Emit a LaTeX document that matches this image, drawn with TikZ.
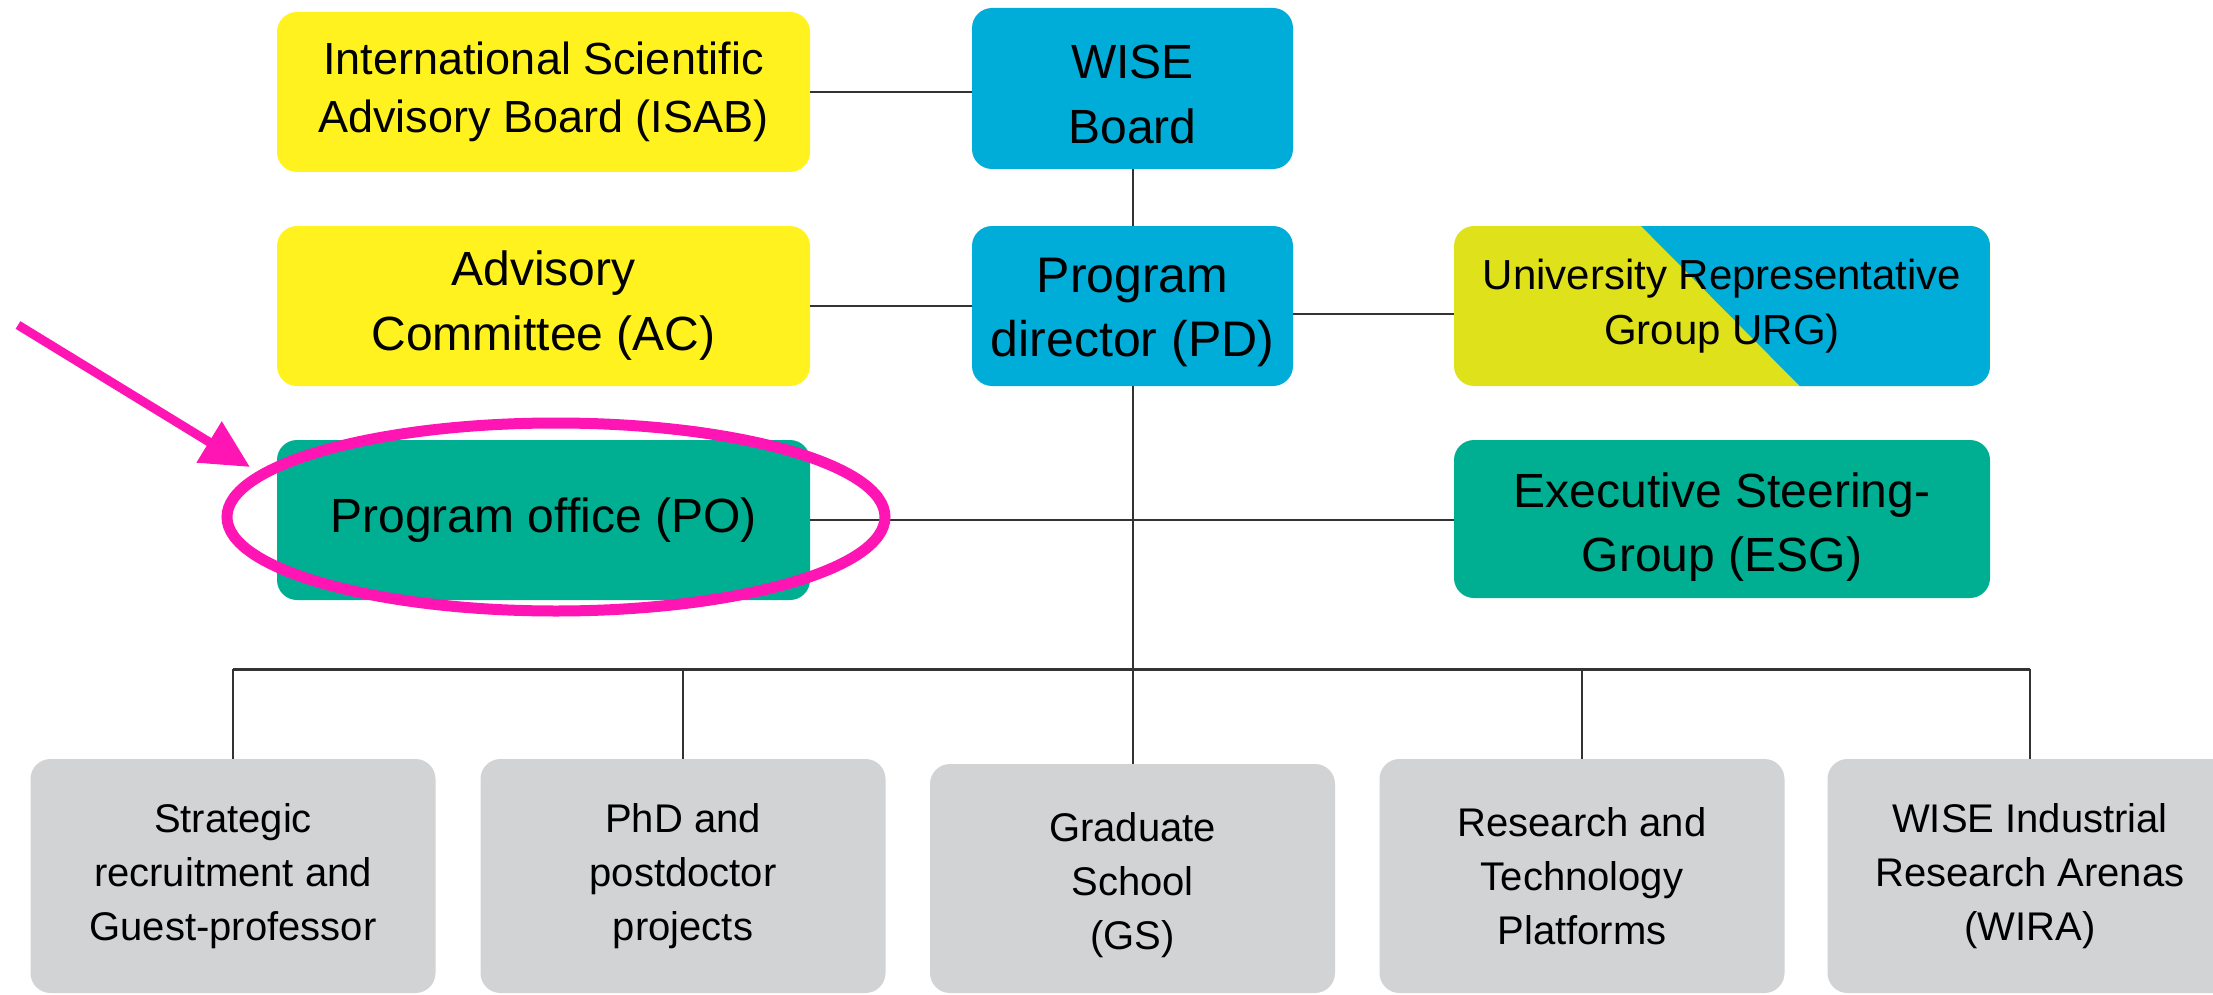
\documentclass[tikz,border=0pt]{standalone}
\usepackage{fontspec}
\setmainfont{Liberation Sans}
\usetikzlibrary{arrows.meta,calc}
\definecolor{cyellow}{HTML}{FFF21E}
\definecolor{cblue}{HTML}{00ADD9}
\definecolor{cteal}{HTML}{00AE92}
\definecolor{cgray}{HTML}{D1D3D4}
\definecolor{curg}{HTML}{DFE21A}
\definecolor{cpink}{HTML}{FF14B4}
\definecolor{cline}{HTML}{333333}
\tikzset{
  orgbox/.style={rounded corners=20pt, inner sep=0pt, align=center, draw=none},
  topbox/.style={orgbox, minimum width=533pt, minimum height=160pt},
  midbox/.style={orgbox, minimum width=321pt, minimum height=160pt},
  rightbox/.style={orgbox, minimum width=536pt, minimum height=160pt},
  botfont/.style={font={\fontsize{40}{54}\selectfont}},
  botbox/.style={orgbox, fill=cgray, minimum width=405pt, minimum height=234pt, botfont},
  conn/.style={draw=cline, line width=2pt},
  bigfont/.style={font={\fontsize{48}{65}\selectfont}},
  lbl/.style={inner sep=0pt, align=center}
}
\begin{document}
\begin{tikzpicture}[x=1pt,y=-1pt]
\useasboundingbox (0,0) rectangle (2213,995);

% top row
\node[topbox, fill=cyellow, font={\fontsize{45}{58}\selectfont}] (isab) at (543.5,92)
  {International Scientific\\Advisory Board (ISAB)};
\node[midbox, fill=cblue, minimum height=161pt] (wise) at (1132.5,88.5) {};
\node[lbl, bigfont] (wisetext) at ([yshift=-6pt]wise.center) {WISE\\Board};

% second row
\node[topbox, fill=cyellow, bigfont] (ac) at (543.5,306) {Advisory\\Committee (AC)};
\node[midbox, fill=cblue] (pd) at (1132.5,306) {};
\node[lbl, font={\fontsize{50}{64}\selectfont}] (pdtext) at ([yshift=-6pt]pd.center) {Program\\director (PD)};
\node[rightbox, fill=curg, font={\fontsize{42}{55}\selectfont},
  path picture={
    \fill[cblue, sharp corners] ($(path picture bounding box.north west)!0.349!(path picture bounding box.north east)$)
      -- (path picture bounding box.north east)
      -- (path picture bounding box.south east)
      -- ($(path picture bounding box.south west)!0.645!(path picture bounding box.south east)$) -- cycle;
  }] (urg) at (1722,306) {University Representative\\Group URG)};

% third row
\node[topbox, fill=cteal, bigfont] (po) at (543.5,520) {Program office (PO)};
\node[rightbox, fill=cteal, minimum height=158pt] (esg) at (1722,519) {};
\node[lbl, font={\fontsize{48}{64}\selectfont}] (esgtext) at ([yshift=-8pt]esg.center)
  {Executive Steering-\\Group (ESG)};

% bottom row
\node[botbox] (b1) at (233,876) {Strategic\\recruitment and\\Guest-professor};
\node[botbox] (b2) at (683,876) {PhD and\\postdoctor\\projects};
\node[botbox, minimum height=229pt] (b3) at (1132.5,878.5) {};
\node[lbl, botfont] (b3text) at ([yshift=-7pt]b3.center) {Graduate\\School\\(GS)};
\node[botbox] (b4) at (1582,876) {Research and\\Technology\\Platforms};
\node[botbox] (b5) at (2030,876) {WISE Industrial\\Research Arenas\\(WIRA)};

% connectors
\draw[conn] (isab.east) -- (isab.east -| wise.west);
\draw[conn] (ac.east) -- (pd.west);
\coordinate (urgjoin) at (1300,314);
\draw[conn] (urgjoin -| pd.east) -- (urgjoin -| urg.west);
\draw[conn] (po.east) -- (po.east -| esg.west);
\draw[conn] (wise.south) -- (pd.north);
\draw[conn] (pd.south) -- (b3.north);
\coordinate (bus) at (1132.5,669);
\draw[conn, line width=3pt] (b1.north |- bus) -- (b5.north |- bus);
\draw[conn] (b1.north |- bus) -- (b1.north);
\draw[conn] (b2.north |- bus) -- (b2.north);
\draw[conn] (b4.north |- bus) -- (b4.north);
\draw[conn] (b5.north |- bus) -- (b5.north);

% highlight
\draw[cpink, line width=11pt] (556,517) ellipse [x radius=329pt, y radius=94pt];
\coordinate (arrowtail) at (18,325);
\coordinate (arrowtip) at (250,467);
\draw[cpink, line width=9pt, -{Triangle[length=48pt,width=46pt]}] (arrowtail) -- (arrowtip);
\end{tikzpicture}
\end{document}
